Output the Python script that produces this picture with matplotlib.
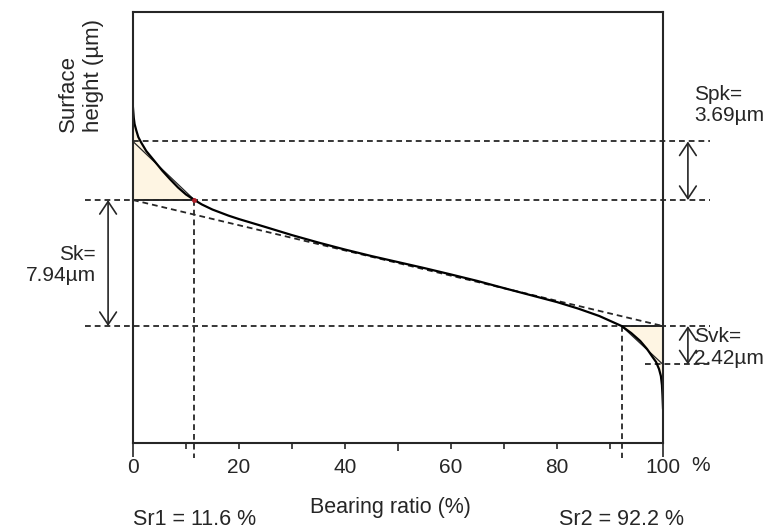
import matplotlib.pyplot as plt

# bearing (Abbott-Firestone) curve: material ratio in %, height in µm
ratio = [0, 0.15, 0.3, 0.6, 1.0, 1.5, 2.5, 4.0, 5.5, 7.0,
         8.5, 10.0, 11.6, 13, 15, 18, 20, 25, 30,
         35, 40, 45, 50, 55, 60, 65, 70, 75, 80,
         84, 88, 92.2, 94.0, 95.7, 97.0, 97.9, 98.7, 99.25, 99.6,
         99.8, 99.9, 100]
height = [9.77, 9.14, 8.76, 8.38, 7.94, 7.62, 7.06, 6.45, 5.83, 5.28,
          4.76, 4.32, 3.97, 3.69, 3.37, 2.99, 2.77, 2.27, 1.76,
          1.29, 0.85, 0.44, 0.06, -0.32, -0.72, -1.13, -1.58, -2.02, -2.46,
          -2.87, -3.34, -3.97, -4.41, -4.91, -5.42, -5.86, -6.24, -6.68, -7.12,
          -7.69, -8.32, -9.14]

# functional parameters
core_top = 3.97
sk = 7.94
spk = 3.69
svk = 2.42
sr1 = 11.6
sr2 = 92.2

tick_values = list(range(0, 101, 10))
tick_labels = ['0', '', '20', '', '40', '', '60', '', '80', '', '100']

core_bottom = core_top - sk
ink = '#262626'
fill = '#fef5e3'
dash = dict(color=ink, lw=1.3, ls=(0, (3.2, 2.2)), clip_on=False)

plt.rcParams['font.family'] = ['Liberation Sans', 'DejaVu Sans']

fig = plt.figure(figsize=(7.82, 5.30), dpi=100)
ax = fig.add_axes([133 / 782, 87 / 530, 530 / 782, 431 / 530])
ax.set_xlim(0, 100)
ax.set_ylim(-11.34, 15.82)

# shaded peak and valley areas
peak_x = [r for r in ratio if r <= sr1]
peak_y = [h for r, h in zip(ratio, height) if r <= sr1]
valley_x = [r for r in ratio if r >= sr2]
valley_y = [h for r, h in zip(ratio, height) if r >= sr2]
ax.fill_between(peak_x, peak_y, core_top, color=fill, lw=0)
ax.fill_between(valley_x, valley_y, core_bottom, color=fill, lw=0)

# reference lines
ax.plot([0, 108.9], [core_top + spk] * 2, **dash)
ax.plot([-9.1, 108.9], [core_top] * 2, **dash)
ax.plot([-9.1, 108.9], [core_bottom] * 2, **dash)
ax.plot([96.6, 108.9], [core_bottom - svk] * 2, **dash)
ax.plot([0, 100], [core_top, core_bottom], **dash)
ax.plot([sr1, sr1], [core_top, -12.3], **dash)
ax.plot([sr2, sr2], [core_bottom, -12.3], **dash)

# equivalent triangles and core limits
ax.plot([0, sr1], [core_top + spk, core_top], color=ink, lw=0.9)
ax.plot([sr2, 100], [core_bottom, core_bottom - svk], color=ink, lw=0.9)
ax.plot([0, sr1], [core_top] * 2, color=ink, lw=1.4)
ax.plot([sr2, 100], [core_bottom] * 2, color=ink, lw=1.4)

ax.plot(ratio, height, color='black', lw=1.6)
ax.plot([sr1], [core_top], 'o', color='#b0202a', ms=2.5)

# dimension arrows
arrow = dict(arrowstyle='<->, head_length=0.45, head_width=0.3', color=ink,
             lw=1.2, shrinkA=0, shrinkB=0, mutation_scale=20)
ax.annotate('', xy=(-4.7, core_top), xytext=(-4.7, core_bottom),
            arrowprops=arrow, annotation_clip=False)
ax.annotate('', xy=(104.7, core_top + spk), xytext=(104.7, core_top),
            arrowprops=arrow, annotation_clip=False)
ax.annotate('', xy=(104.7, core_bottom), xytext=(104.7, core_bottom - svk),
            arrowprops=arrow, annotation_clip=False)

ax.text(-7.0, (core_top + core_bottom) / 2 - 0.1, f'Sk=\n{sk:.2f}µm',
        ha='right', va='center', ma='right', fontsize=15, linespacing=1.15,
        color=ink, clip_on=False)
ax.text(105.9, core_top + spk + 2.3, f'Spk=\n{spk:.2f}µm', ha='left',
        va='center', fontsize=15, linespacing=1.15, color=ink, clip_on=False)
ax.text(105.9, core_bottom - 1.35, f'Svk=\n{svk:.2f}µm', ha='left',
        va='center', fontsize=15, linespacing=1.15, color=ink, clip_on=False)

# axes frame and ticks
for side in ['left', 'right', 'top', 'bottom']:
    ax.spines[side].set_color(ink)
    ax.spines[side].set_linewidth(1.5)
ax.set_yticks([])
ax.set_xticks(tick_values)
ax.set_xticklabels(tick_labels)
ax.tick_params(axis='x', direction='out', length=4, width=1.2, pad=7,
               labelsize=15, colors=ink)
for value, tick in zip(tick_values, ax.xaxis.get_major_ticks()):
    if value in (0, 100):
        tick.tick1line.set_markersize(10)
    elif value == 50:
        tick.tick1line.set_markersize(6)
ax.text(107, -0.052, '%', transform=ax.get_xaxis_transform(), ha='center',
        va='center', fontsize=15, color=ink)

fig.text(390 / 782, 1 - 508 / 530, 'Bearing ratio (%)', ha='center',
         va='center', fontsize=15.5, color=ink)
fig.text(81 / 782, 1 - 132 / 530, 'Surface\nheight (µm)', rotation=90,
         ha='center', va='bottom', ma='left', fontsize=16, linespacing=1.25,
         color=ink)

ax.text(sr1, -0.177, f'Sr1 = {sr1} %', transform=ax.get_xaxis_transform(),
        ha='center', va='center', fontsize=15.5, color=ink)
ax.text(sr2, -0.177, f'Sr2 = {sr2} %', transform=ax.get_xaxis_transform(),
        ha='center', va='center', fontsize=15.5, color=ink)

fig.savefig('out.png', dpi=100)
